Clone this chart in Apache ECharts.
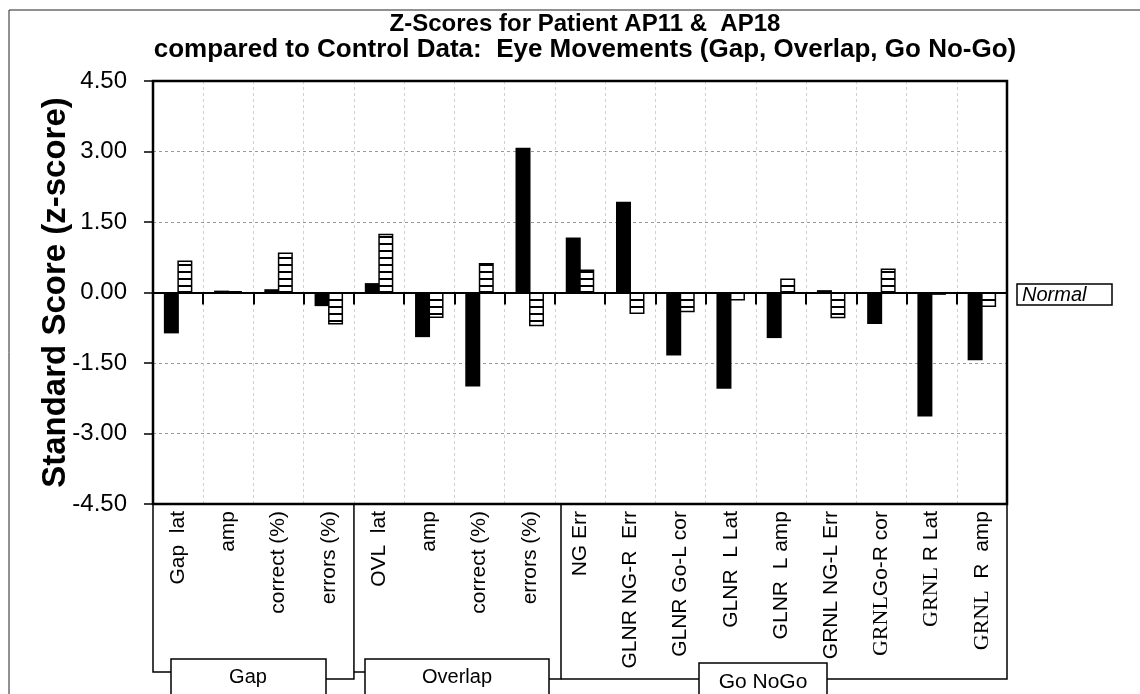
<!DOCTYPE html>
<html>
<head>
<meta charset="utf-8">
<script src="https://cdn.jsdelivr.net/npm/echarts@6/dist/echarts.min.js"></script>
<style>html,body{margin:0;padding:0;background:#fff;}#c{width:1140px;height:694px;}</style>
</head>
<body>
<div id="c"></div>
<script>
const categories = ['Gap  lat','amp','correct (%)','errors (%)','OVL  lat','amp','correct (%)','errors (%)','NG Err','GLNR NG-R  Err','GLNR Go-L cor','GLNR  L Lat','GLNR  L amp','GRNL NG-L Err','GRNLGo-R cor','GRNL R Lat','GRNL  R  amp'];
const seriesAP11 = [-0.87, 0.04, 0.07, -0.29, 0.20, -0.95, -2.00, 3.08, 1.17, 1.93, -1.34, -2.05, -0.97, 0.05, -0.67, -2.64, -1.44];
const seriesAP18 = [0.68, 0.03, 0.85, -0.68, 1.25, -0.54, 0.63, -0.72, 0.49, -0.46, -0.42, -0.17, 0.30, -0.55, 0.51, -0.05, -0.31];
const yTicks = [-4.5, -3.0, -1.5, 0, 1.5, 3.0, 4.5];
const groups = ['Gap', 'Overlap', 'Go NoGo'];

const pc = document.createElement('canvas');
pc.width = 4; pc.height = 7;
const pctx = pc.getContext('2d');
pctx.fillStyle = '#fff'; pctx.fillRect(0, 0, 4, 7);
pctx.fillStyle = '#000'; pctx.fillRect(0, 5, 4, 2);

const G = {left: 153, top: 81, right: 1007, bottom: 504};
const band = (G.right - G.left) / categories.length;
const bx = i => G.left + i * band;

const chart = echarts.init(document.getElementById('c'));
const F = '"Liberation Sans", Arial, sans-serif';
const S = '"Liberation Serif", "Times New Roman", serif';

function labelFmt(v) {
  if (v.indexOf('GRNL') === 0 && (v.indexOf('Go-R') > 0 || v.indexOf(' R ') > 0)) {
    return '{s|GRNL}' + v.slice(4);
  }
  return v;
}

chart.setOption({
  animation: false,
  backgroundColor: '#fff',
  title: [
    {text: 'Z-Scores for Patient AP11 &  AP18', left: 580, top: 7, textAlign: 'center',
     textStyle: {fontFamily: F, fontSize: 24, fontWeight: 'bold', color: '#000'}},
    {text: 'compared to Control Data:  Eye Movements (Gap, Overlap, Go No-Go)', left: 580, top: 32, textAlign: 'center',
     textStyle: {fontFamily: F, fontSize: 26, fontWeight: 'bold', color: '#000'}}
  ],
  grid: {left: G.left, top: G.top, width: G.right - G.left, height: G.bottom - G.top,
         show: false},
  xAxis: [
    {type: 'category', data: categories, boundaryGap: true,
     axisLine: {onZero: true, lineStyle: {color: '#000', width: 2}},
     axisTick: {show: true, interval: 0, length: 12, lineStyle: {color: '#000', width: 2}},
     axisLabel: {show: false},
     splitLine: {show: true, interval: 0, lineStyle: {color: '#d0d0d0', type: [3, 3], width: 1}}},
    {type: 'category', data: categories, boundaryGap: true, position: 'bottom',
     axisLine: {show: false, onZero: false}, axisTick: {show: false},
     splitLine: {show: false},
     axisLabel: {interval: 0, rotate: 90, margin: 7, fontFamily: F, fontSize: 21, color: '#000',
       formatter: labelFmt,
       rich: {s: {fontFamily: S, fontSize: 22, color: '#000'}}}}
  ],
  yAxis: {
    type: 'value', min: yTicks[0], max: yTicks[yTicks.length - 1], interval: 1.5,
    name: 'Standard Score (z-score)', nameLocation: 'middle', nameGap: 81, nameRotate: 90,
    nameMoveOverlap: false,
    nameTextStyle: {fontFamily: F, fontSize: 33, fontWeight: 'bold', color: '#000'},
    axisLine: {show: true, lineStyle: {color: '#000', width: 2}},
    axisTick: {show: true, length: 9, lineStyle: {color: '#000', width: 1.5}},
    axisLabel: {fontFamily: F, fontSize: 24, color: '#000', margin: 26,
      formatter: v => v.toFixed(2)},
    splitLine: {show: true, lineStyle: {color: '#999', type: [3, 3], width: 1}}
  },
  series: [
    {name: 'AP11', type: 'bar', data: seriesAP11, barWidth: 15, barGap: '-10%',
     itemStyle: {color: '#000'}},
    {name: 'AP18', type: 'bar', data: seriesAP18, barWidth: 15,
     itemStyle: {color: {image: pc, repeat: 'repeat'}, borderColor: '#000', borderWidth: 1.5}}
  ],
  graphic: [
    {type: 'rect', shape: {x: 9, y: 10, width: 1200, height: 800}, style: {fill: 'none', stroke: '#222', lineWidth: 1}, silent: true, z: -1},
    {type: 'rect', shape: {x: G.left, y: G.top, width: G.right - G.left, height: G.bottom - G.top}, style: {fill: 'none', stroke: '#000', lineWidth: 2.5}, silent: true, z: 100},
    {type: 'group', children: [
      {type: 'rect', shape: {x: 1017, y: 284, width: 95, height: 21}, style: {fill: '#fff', stroke: '#000', lineWidth: 1.5}},
      {type: 'text', x: 1022, y: 295, style: {text: 'Normal', fontFamily: F, fontSize: 20, fontStyle: 'italic', fill: '#000', verticalAlign: 'middle'}}
    ]},
    {type: 'polyline', shape: {points: [[bx(0), G.bottom], [bx(0), 672], [171, 672]]}, style: {fill: 'none', stroke: '#000', lineWidth: 1.5}},
    {type: 'rect', shape: {x: 171, y: 659, width: 155, height: 50}, style: {fill: '#fff', stroke: '#000', lineWidth: 1.5}},
    {type: 'text', x: 248, y: 677, style: {text: groups[0], fontFamily: F, fontSize: 20, fill: '#000', align: 'center', verticalAlign: 'middle'}},
    {type: 'polyline', shape: {points: [[326, 679], [bx(4), 679], [bx(4), G.bottom]]}, style: {fill: 'none', stroke: '#000', lineWidth: 1.5}},
    {type: 'polyline', shape: {points: [[bx(4), 672], [365, 672]]}, style: {fill: 'none', stroke: '#000', lineWidth: 1.5}},
    {type: 'rect', shape: {x: 365, y: 659, width: 184, height: 50}, style: {fill: '#fff', stroke: '#000', lineWidth: 1.5}},
    {type: 'text', x: 457, y: 677, style: {text: groups[1], fontFamily: F, fontSize: 20, fill: '#000', align: 'center', verticalAlign: 'middle'}},
    {type: 'polyline', shape: {points: [[549, 679], [561, 679], [561, G.bottom]]}, style: {fill: 'none', stroke: '#000', lineWidth: 1.5}},
    {type: 'polyline', shape: {points: [[561, 679], [699, 679]]}, style: {fill: 'none', stroke: '#000', lineWidth: 1.5}},
    {type: 'rect', shape: {x: 699, y: 663, width: 128, height: 50}, style: {fill: '#fff', stroke: '#000', lineWidth: 1.5}},
    {type: 'text', x: 763, y: 682, style: {text: groups[2], fontFamily: F, fontSize: 21, fill: '#000', align: 'center', verticalAlign: 'middle'}},
    {type: 'polyline', shape: {points: [[827, 679], [G.right, 679], [G.right, G.bottom]]}, style: {fill: 'none', stroke: '#000', lineWidth: 1.5}}
  ]
});
</script>
</body>
</html>
